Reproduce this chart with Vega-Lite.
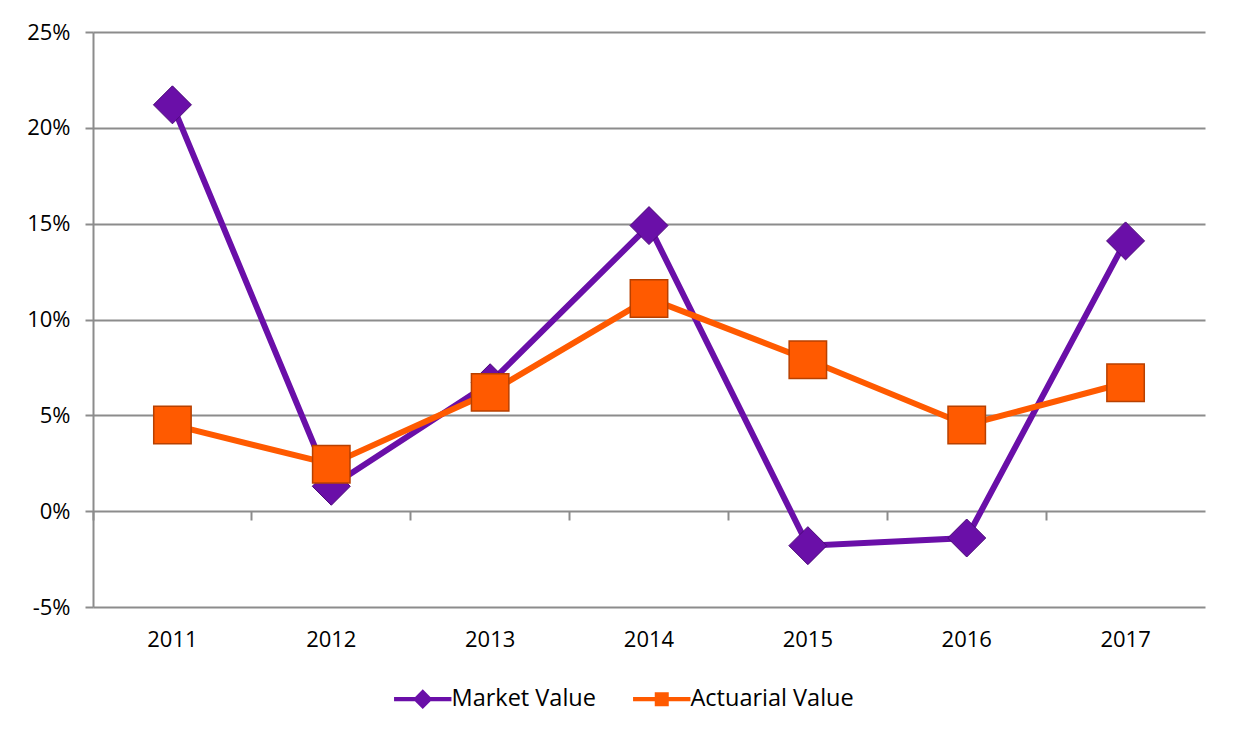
{
  "$schema": "https://vega.github.io/schema/vega-lite/v6.json",
  "width": 1112,
  "height": 575,
  "autosize": {"type": "none"},
  "padding": {"left": 93, "top": 32, "right": 28, "bottom": 131},
  "background": "white",
  "config": {
    "view": {"stroke": null},
    "font": "Open Sans",
    "axis": {"gridColor": "#8c8c8c", "gridWidth": 2, "domainColor": "#8c8c8c", "tickColor": "#8c8c8c", "labelColor": "#000000", "labelFont": "Open Sans", "labelFontSize": 22}
  },
  "data": {
    "values": [
      {"year": "2011", "series": "Market Value", "value": 21.2},
      {"year": "2012", "series": "Market Value", "value": 1.3},
      {"year": "2013", "series": "Market Value", "value": 6.7},
      {"year": "2014", "series": "Market Value", "value": 14.9},
      {"year": "2015", "series": "Market Value", "value": -1.8},
      {"year": "2016", "series": "Market Value", "value": -1.4},
      {"year": "2017", "series": "Market Value", "value": 14.1},
      {"year": "2011", "series": "Actuarial Value", "value": 4.5},
      {"year": "2012", "series": "Actuarial Value", "value": 2.45},
      {"year": "2013", "series": "Actuarial Value", "value": 6.2},
      {"year": "2014", "series": "Actuarial Value", "value": 11.1},
      {"year": "2015", "series": "Actuarial Value", "value": 7.9},
      {"year": "2016", "series": "Actuarial Value", "value": 4.5},
      {"year": "2017", "series": "Actuarial Value", "value": 6.7}
    ]
  },
  "encoding": {
    "x": {"field": "year", "type": "ordinal", "scale": {"type": "band", "paddingInner": 0, "paddingOuter": 0}, "axis": null},
    "y": {"field": "value", "type": "quantitative", "scale": {"domain": [-5, 25], "nice": false, "zero": false},
      "axis": {"title": null, "values": [-5, 0, 5, 10, 15, 20, 25], "labelExpr": "datum.value + '%'", "domain": true, "domainWidth": 2, "ticks": true, "tickSize": 8, "tickWidth": 2, "labelPadding": 15, "grid": true}},
    "color": {
      "field": "series", "type": "nominal",
      "scale": {"domain": ["Market Value", "Actuarial Value"], "range": ["#6a0fa8", "#ff5a00"]},
      "legend": {
        "title": null, "orient": "none", "direction": "horizontal",
        "legendX": 318, "legendY": 655,
        "symbolSize": 196, "symbolStrokeWidth": 0, "symbolOpacity": 1,
        "labelFontSize": 23.5, "labelFont": "Open Sans", "labelColor": "#000000", "labelLimit": 0,
        "labelOffset": 17, "columnPadding": 37, "padding": 0,
        "encode": {
          "symbols": {
            "update": {
              "shape": {"signal": "datum.value === 'Market Value' ? 'M-4.1,-0.3L4.1,-0.3L4.1,0.3L-4.1,0.3Z M0,-1.4L1.4,0L0,1.4L-1.4,0Z' : 'M-4.1,-0.3L4.1,-0.3L4.1,0.3L-4.1,0.3Z M-1,-1L1,-1L1,1L-1,1Z'"},
              "strokeWidth": {"value": 0},
              "opacity": {"value": 1}
            }
          }
        }
      }
    }
  },
  "layer": [
    {
      "transform": [{"filter": "datum.series === 'Market Value'"}],
      "mark": {"type": "line", "strokeWidth": 6},
      "encoding": {
        "x": {"field": "year", "type": "ordinal", "axis": {"orient": "bottom", "title": null, "ticks": false, "domain": false, "labelAngle": 0, "labelPadding": 22, "grid": false}}
      }
    },
    {
      "transform": [{"filter": "datum.series === 'Market Value'"}],
      "mark": {"type": "point", "shape": "diamond", "filled": true, "size": 1444, "opacity": 1, "stroke": "#4a0878", "strokeWidth": 1}
    },
    {
      "transform": [{"filter": "datum.series === 'Actuarial Value'"}],
      "mark": {"type": "line", "strokeWidth": 6},
      "encoding": {
        "x": {"field": "year", "type": "ordinal", "axis": {"orient": "bottom", "offset": -96, "title": null, "labels": false, "domain": false, "ticks": true, "tickSize": 9, "tickWidth": 2, "bandPosition": 0, "grid": false}}
      }
    },
    {
      "transform": [{"filter": "datum.series === 'Actuarial Value'"}],
      "mark": {"type": "point", "shape": "square", "filled": true, "size": 1400, "opacity": 1, "stroke": "#b84000", "strokeWidth": 1.5}
    }
  ],
  "resolve": {"axis": {"x": "independent"}}
}
